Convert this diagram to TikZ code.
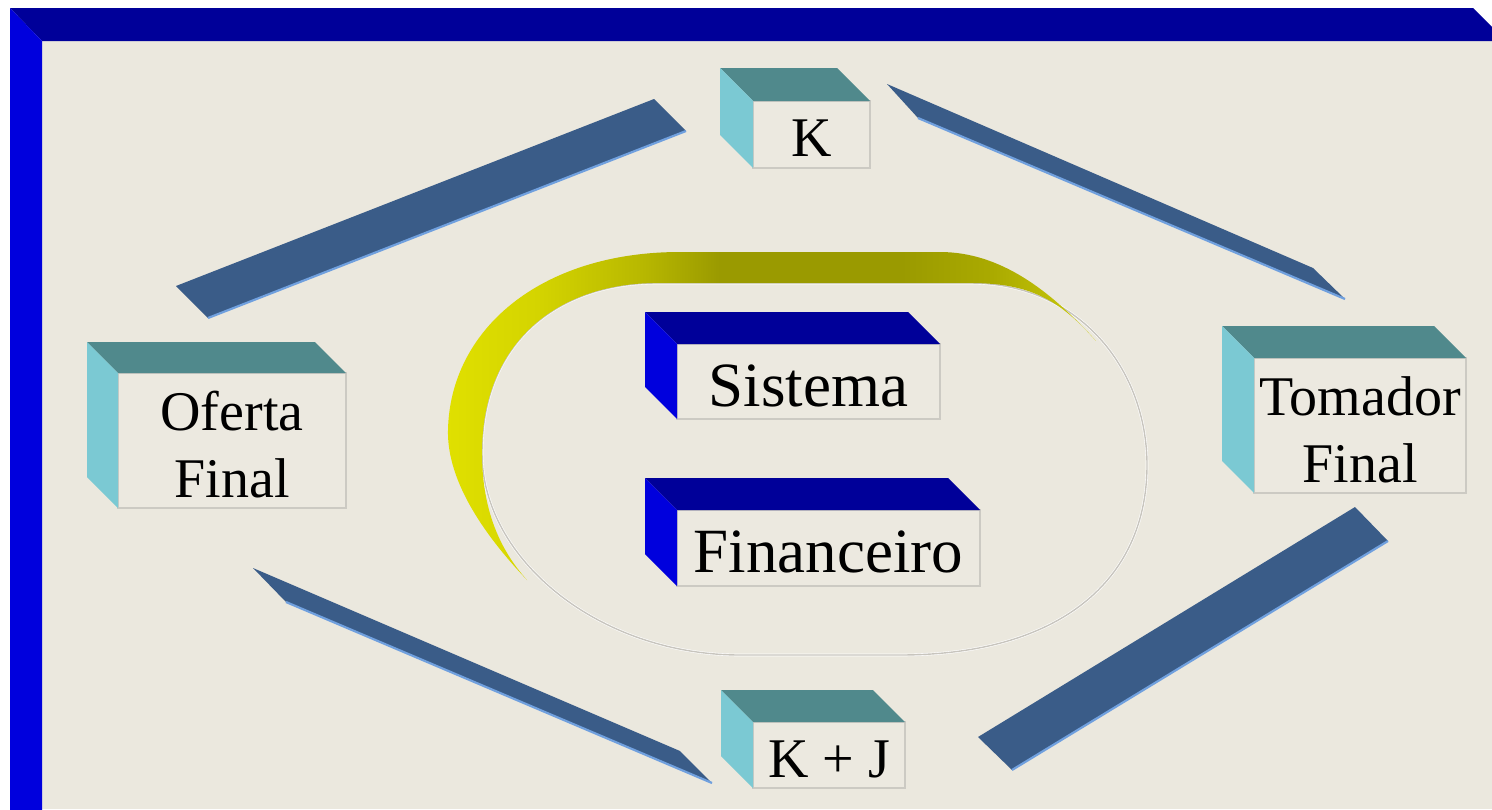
\documentclass[tikz,border=0pt]{standalone}
\usepackage{fontspec}
\setmainfont{Liberation Serif}

\definecolor{panel}{RGB}{235,232,222}
\definecolor{facefill}{RGB}{236,233,224}
\definecolor{faceline}{RGB}{204,202,195}
\definecolor{frametop}{RGB}{0,0,153}
\definecolor{frameside}{RGB}{0,0,221}
\definecolor{tealtop}{RGB}{80,137,140}
\definecolor{cyanside}{RGB}{123,201,211}
\definecolor{barfill}{RGB}{58,92,136}
\definecolor{baredge}{RGB}{112,160,222}
\definecolor{ringline}{RGB}{200,197,190}
\definecolor{ringA}{RGB}{224,224,0}
\definecolor{ringB}{RGB}{212,212,0}
\definecolor{ringC}{RGB}{184,184,0}
\definecolor{ringD}{RGB}{154,154,0}
\definecolor{ringF}{RGB}{170,170,0}
\definecolor{ringE}{RGB}{205,205,12}

% colour runs left to right across the ring band (path box maps to 25bp..75bp)
\pgfdeclarehorizontalshading{ringshade}{100bp}{%
  color(0bp)=(ringA); color(25bp)=(ringA); color(32bp)=(ringB);
  color(40bp)=(ringC); color(46bp)=(ringD); color(60bp)=(ringD);
  color(67bp)=(ringF); color(75bp)=(ringE); color(100bp)=(ringE)}

\newcommand\lblfont{\fontsize{56}{67}\selectfont}
\newcommand\titlefont{\fontsize{63}{70}\selectfont}
% lowers a line of label text a little without changing its box size
\newcommand\lowline[1]{\raisebox{-4pt}[\height][\depth]{#1}}

\tikzset{
  face/.style={draw=faceline, fill=facefill, line width=1.4pt, outer sep=0pt,
               inner sep=0pt, align=center, font=\lblfont},
  bigface/.style={face, font=\titlefont},
  slab/.style={fill=barfill},
  slabedge/.style={draw=baredge, line width=2.2pt},
}

% cuboid side faces behind a front face node: #1 node, #2 depth, #3 top colour, #4 side colour
\newcommand\cubesides[4]{%
  \fill[#3] (#1.north west) -- ([shift={(-#2,-#2)}]#1.north west)
        -- ([shift={(-#2,-#2)}]#1.north east) -- (#1.north east) -- cycle;
  \fill[#4] (#1.north west) -- ([shift={(-#2,-#2)}]#1.north west)
        -- ([shift={(-#2,-#2)}]#1.south west) -- (#1.south west) -- cycle;
}

\begin{document}
\begin{tikzpicture}[x=1pt, y=-1pt]
  \useasboundingbox (0,0) rectangle (1492,809);
  \clip (0,0) rectangle (1492,809);
  \fill[white] (0,0) rectangle (1492,809);
  \fill[panel] (42,41) rectangle (1492,809);

  % bevelled frame
  \fill[frametop] (10,8) -- (1473,8) -- (1506,41) -- (42,41) -- cycle;
  \fill[frameside] (10,8) -- (42,41) -- (42,812) -- (10,812) -- cycle;

  % inner outline of the ring
  \draw[white, line width=2.6pt]
    (657,283) -- (970,283) .. controls (1080,283) and (1147,370) .. (1147,465)
    .. controls (1147,580) and (1060,655) .. (900,655) -- (740,655)
    .. controls (600,655) and (482,560) .. (482,453)
    .. controls (482,340) and (560,283) .. (657,283) -- cycle;
  \draw[ringline, line width=1.4pt]
    (657,283) -- (970,283) .. controls (1080,283) and (1147,370) .. (1147,465)
    .. controls (1147,580) and (1060,655) .. (900,655) -- (740,655)
    .. controls (600,655) and (482,560) .. (482,453)
    .. controls (482,340) and (560,283) .. (657,283) -- cycle;

  % yellow ring band
  \shade[shading=ringshade]
    (527,580) .. controls (470,520) and (447,470) .. (448,430)
    .. controls (450,330) and (540,252) .. (680,252) -- (940,252)
    .. controls (1000,252) and (1050,290) .. (1096,341)
    .. controls (1060,300) and (1030,283) .. (970,283) -- (657,283)
    .. controls (560,283) and (482,340) .. (482,453)
    .. controls (482,510) and (500,550) .. (527,580) -- cycle;

  % slabs between the boxes
  \fill[slab] (176,286) -- (654,99) -- (686,131) -- (208,318) -- cycle;
  \draw[slabedge] (208,318) -- (686,131);
  \fill[slab] (887,84) -- (1313,268) -- (1345,299) -- (918,118) -- cycle;
  \draw[slabedge] (918,118) -- (1345,299);
  \fill[slab] (253,568) -- (680,751) -- (712,783) -- (286,602) -- cycle;
  \draw[slabedge] (286,602) -- (712,783);
  \fill[slab] (978,737) -- (1355,507) -- (1388,541) -- (1012,770) -- cycle;
  \draw[slabedge] (1012,770) -- (1388,541);

  % boxes
  \node[face, minimum width=117pt, minimum height=67pt] (k) at (811.5,134.5) {\lowline{K}};
  \cubesides{k}{33}{tealtop}{cyanside}

  \node[face, minimum width=228pt, minimum height=135pt] (oferta) at (232,440.5)
    {\lowline{Oferta}\\\lowline{Final}};
  \cubesides{oferta}{31}{tealtop}{cyanside}

  \node[face, minimum width=212pt, minimum height=135pt] (tomador) at (1360,425.5)
    {\lowline{Tomador}\\\lowline{Final}};
  \cubesides{tomador}{32}{tealtop}{cyanside}

  \node[face, minimum width=152pt, minimum height=66pt] (kj) at (829,755) {\lowline{K + J}};
  \cubesides{kj}{32}{tealtop}{cyanside}

  \node[bigface, minimum width=263pt, minimum height=75pt] (sistema) at (808.5,381.5) {\lowline{Sistema}};
  \cubesides{sistema}{32}{frametop}{frameside}

  \node[bigface, minimum width=303pt, minimum height=76pt] (financeiro) at (828.5,548) {\lowline{Financeiro}};
  \cubesides{financeiro}{32}{frametop}{frameside}
\end{tikzpicture}
\end{document}
